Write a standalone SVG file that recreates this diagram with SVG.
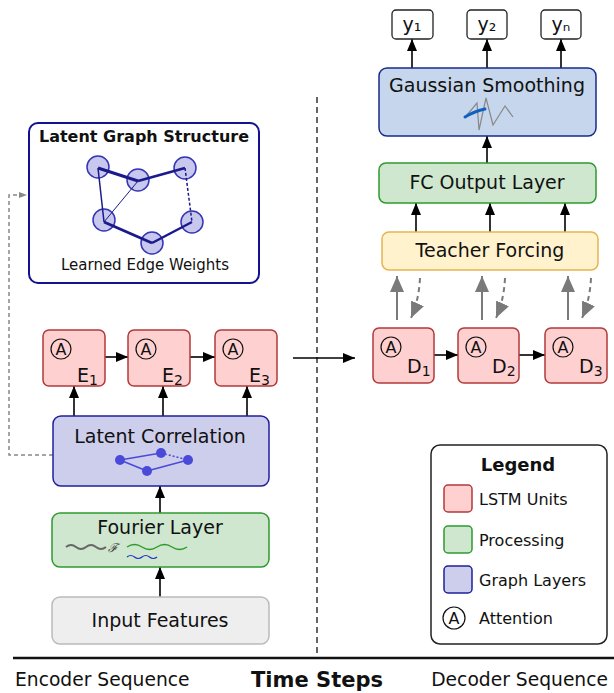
<svg xmlns="http://www.w3.org/2000/svg" width="614" height="693" viewBox="0 0 614 693">
<defs>
<style>
text{font-family:"DejaVu Sans","Verdana",sans-serif;fill:#111}
.lbl{font-size:19px;text-anchor:middle}
.lstm{fill:#ffd0d0;stroke:#b23a3a;stroke-width:1.5}
.proc{fill:#cfe6cf;stroke:#2e9a2e;stroke-width:1.5}
.graph{fill:#cdcdec;stroke:#1f1f9a;stroke-width:1.5}
.att{fill:none;stroke:#111;stroke-width:1.2}
.atxt{font-size:16px;text-anchor:middle}
.arr{stroke:#000;stroke-width:1.6;fill:none;marker-end:url(#ah)}
.garr{stroke:#7a7a7a;stroke-width:2;fill:none;marker-end:url(#gh)}
.gdash{stroke:#7a7a7a;stroke-width:2;fill:none;stroke-dasharray:5,4;marker-end:url(#gh)}
.edge{stroke:#1a1a8c;fill:none}
.gn{fill:#c8c8ee;stroke:#3535b5;stroke-width:1.5}
.leg{font-size:16px}
.sub{font-size:14px}
</style>
<marker id="ah" viewBox="0 0 12 10" refX="12" refY="5" markerWidth="12" markerHeight="10" markerUnits="userSpaceOnUse" orient="auto"><path d="M0,0 L12,5 L0,10 z" fill="#000"/></marker>
<marker id="gh" viewBox="0 0 16 14" refX="16" refY="7" markerWidth="16" markerHeight="14" markerUnits="userSpaceOnUse" orient="auto"><path d="M0,0 L16,7 L0,14 z" fill="#7a7a7a"/></marker>
<marker id="sh" viewBox="0 0 8 6" refX="8" refY="3" markerWidth="8" markerHeight="6" markerUnits="userSpaceOnUse" orient="auto"><path d="M0,0 L8,3 L0,6 z" fill="#888"/></marker>
</defs>

<g id="connectors">
<line x1="317" y1="97" x2="317" y2="656" stroke="#333" stroke-width="1.5" stroke-dasharray="6,4"/>
<line x1="13" y1="658" x2="614" y2="658" stroke="#111" stroke-width="2.5"/>
<path d="M53,455 L9,455 L9,195 L27,195" stroke="#888" stroke-width="1.5" fill="none" stroke-dasharray="4,3" marker-end="url(#sh)"/>
<line class="arr" x1="160" y1="597" x2="160" y2="567"/>
<line class="arr" x1="160" y1="513" x2="160" y2="486"/>
<line class="arr" x1="74" y1="416" x2="74" y2="386"/>
<line class="arr" x1="163" y1="416" x2="163" y2="386"/>
<line class="arr" x1="247" y1="416" x2="247" y2="386"/>
<line class="arr" x1="105" y1="357" x2="128" y2="357"/>
<line class="arr" x1="190" y1="357" x2="215" y2="357"/>
<line class="arr" x1="293" y1="358" x2="355" y2="358"/>
<line class="arr" x1="434" y1="355" x2="458" y2="355"/>
<line class="arr" x1="519" y1="355" x2="545" y2="355"/>
<line class="garr" x1="397" y1="320" x2="397" y2="276"/>
<line class="garr" x1="482" y1="320" x2="482" y2="276"/>
<line class="garr" x1="568" y1="320" x2="568" y2="276"/>
<path class="gdash" d="M420,278 Q419,300 411,318"/>
<path class="gdash" d="M505,278 Q504,300 496,318"/>
<path class="gdash" d="M591,278 Q590,300 582,318"/>
<line class="arr" x1="416" y1="232" x2="416" y2="203"/>
<line class="arr" x1="490" y1="232" x2="490" y2="203"/>
<line class="arr" x1="565" y1="232" x2="565" y2="203"/>
<line class="arr" x1="487" y1="163" x2="487" y2="136"/>
<line class="arr" x1="412" y1="68" x2="412" y2="39"/>
<line class="arr" x1="487" y1="68" x2="487" y2="39"/>
<line class="arr" x1="561" y1="68" x2="561" y2="39"/>
</g>

<g id="latent-graph">
<rect x="29" y="123" width="230" height="160" rx="9" fill="#fff" stroke="#12128f" stroke-width="2"/>
<text x="144" y="142" style="font-size:16px;font-weight:bold;text-anchor:middle">Latent Graph Structure</text>
<circle class="gn" cx="98" cy="167" r="11"/>
<circle class="gn" cx="138" cy="180" r="11"/>
<circle class="gn" cx="185" cy="168" r="11"/>
<circle class="gn" cx="104" cy="220" r="11"/>
<circle class="gn" cx="152" cy="243" r="11"/>
<circle class="gn" cx="192" cy="222" r="11"/>
<line class="edge" x1="98" y1="168" x2="138" y2="181" stroke-width="3"/>
<line class="edge" x1="138" y1="181" x2="185" y2="168" stroke-width="2.5"/>
<line class="edge" x1="185" y1="168" x2="192" y2="222" stroke-width="1.5" stroke-dasharray="3,2"/>
<line class="edge" x1="98" y1="168" x2="104" y2="222" stroke-width="1.5"/>
<line class="edge" x1="138" y1="181" x2="104" y2="222" stroke-width="1"/>
<line class="edge" x1="104" y1="222" x2="152" y2="243" stroke-width="3"/>
<line class="edge" x1="152" y1="243" x2="192" y2="222" stroke-width="2.5"/>
<text x="145" y="270" style="font-size:15px;text-anchor:middle">Learned Edge Weights</text>
</g>

<g id="E1"><rect class="lstm" x="43" y="330" width="62" height="56" rx="6"/><circle class="att" cx="61" cy="349" r="10"/><text class="atxt" x="61" y="355">A</text><text x="77" y="382" style="font-size:19px">E<tspan class="sub" dy="3">1</tspan></text></g>
<g id="E2"><rect class="lstm" x="128" y="330" width="62" height="56" rx="6"/><circle class="att" cx="146" cy="349" r="10"/><text class="atxt" x="146" y="355">A</text><text x="162" y="382" style="font-size:19px">E<tspan class="sub" dy="3">2</tspan></text></g>
<g id="E3"><rect class="lstm" x="215" y="330" width="62" height="56" rx="6"/><circle class="att" cx="233" cy="349" r="10"/><text class="atxt" x="233" y="355">A</text><text x="249" y="382" style="font-size:19px">E<tspan class="sub" dy="3">3</tspan></text></g>

<g id="latent-correlation">
<rect class="graph" x="53" y="416" width="216" height="70" rx="8"/>
<text class="lbl" x="160" y="443">Latent Correlation</text>
<g stroke="#4a4ad8" stroke-width="1.5" fill="none">
<line x1="120" y1="460" x2="161" y2="453"/>
<line x1="161" y1="453" x2="188" y2="460" stroke-dasharray="2,2"/>
<line x1="120" y1="460" x2="147" y2="471"/>
<line x1="147" y1="471" x2="188" y2="460"/>
</g>
<g fill="#4a4ad8"><circle cx="120" cy="460" r="5"/><circle cx="161" cy="453" r="5"/><circle cx="188" cy="460" r="5"/><circle cx="147" cy="471" r="5"/></g>
</g>

<g id="fourier-layer">
<rect class="proc" x="52" y="513" width="217" height="54" rx="8"/>
<text class="lbl" x="160" y="534">Fourier Layer</text>
<path d="M66,547 q5,-4 10,0 t10,0 t10,0 t10,0" stroke="#666" stroke-width="2" fill="none"/>
<text x="108" y="552" style="font-family:'DejaVu Serif',serif;font-size:12px;font-style:italic;fill:#333">ℱ</text>
<path d="M127,547 q7.5,-5 15,0 t15,0 t15,0 t15,0" stroke="#2a9a2a" stroke-width="1.3" fill="none"/>
<path d="M127,557 q3.75,-3 7.5,0 t7.5,0 t7.5,0 t7.5,0" stroke="#2030c0" stroke-width="1.2" fill="none"/>
</g>

<g id="input-features">
<rect x="52" y="597" width="217" height="47" rx="8" fill="#eeeeee" stroke="#bbbbbb" stroke-width="1.5"/>
<text class="lbl" x="160" y="627">Input Features</text>
</g>

<g id="y1"><rect x="392" y="10" width="41" height="29" rx="4" fill="#fff" stroke="#222" stroke-width="1.3"/><text class="lbl" x="412" y="31">y₁</text></g>
<g id="y2"><rect x="467" y="10" width="40" height="29" rx="4" fill="#fff" stroke="#222" stroke-width="1.3"/><text class="lbl" x="487" y="31">y₂</text></g>
<g id="yn"><rect x="541" y="10" width="40" height="29" rx="4" fill="#fff" stroke="#222" stroke-width="1.3"/><text class="lbl" x="561" y="31">yₙ</text></g>

<g id="gaussian-smoothing">
<rect x="379" y="68" width="217" height="68" rx="8" fill="#c6d6ec" stroke="#1a2a8c" stroke-width="1.5"/>
<text class="lbl" x="487" y="92">Gaussian Smoothing</text>
<polyline points="467,115 477,103 479,130 486,98 493,125 505,106 513,117" stroke="#888" stroke-width="1.2" fill="none"/>
<path d="M465,117 Q475,111 485,109" stroke="#1060c0" stroke-width="3" fill="none" stroke-linecap="round"/>
</g>

<g id="fc-output">
<rect class="proc" x="379" y="163" width="217" height="40" rx="7"/>
<text class="lbl" x="487" y="189">FC Output Layer</text>
</g>

<g id="teacher-forcing">
<rect x="382" y="232" width="216" height="38" rx="7" fill="#fff2cc" stroke="#e6b450" stroke-width="1.5"/>
<text class="lbl" x="490" y="257">Teacher Forcing</text>
</g>

<g id="D1"><rect class="lstm" x="373" y="328" width="61" height="55" rx="6"/><circle class="att" cx="391" cy="347" r="10"/><text class="atxt" x="391" y="353">A</text><text x="407" y="373" style="font-size:19px">D<tspan class="sub" dy="3">1</tspan></text></g>
<g id="D2"><rect class="lstm" x="458" y="328" width="61" height="55" rx="6"/><circle class="att" cx="476" cy="347" r="10"/><text class="atxt" x="476" y="353">A</text><text x="492" y="373" style="font-size:19px">D<tspan class="sub" dy="3">2</tspan></text></g>
<g id="D3"><rect class="lstm" x="545" y="328" width="62" height="55" rx="6"/><circle class="att" cx="563" cy="347" r="10"/><text class="atxt" x="563" y="353">A</text><text x="579" y="373" style="font-size:19px">D<tspan class="sub" dy="3">3</tspan></text></g>

<g id="legend">
<rect x="431" y="445" width="176" height="199" rx="9" fill="#fff" stroke="#222" stroke-width="1.5"/>
<text x="518" y="471" style="font-size:18px;font-weight:bold;text-anchor:middle">Legend</text>
<rect class="lstm" x="444" y="485" width="28" height="27" rx="4"/>
<text class="leg" x="479" y="505">LSTM Units</text>
<rect class="proc" x="444" y="526" width="28" height="27" rx="4"/>
<text class="leg" x="479" y="546">Processing</text>
<rect class="graph" x="444" y="566" width="28" height="27" rx="4"/>
<text class="leg" x="479" y="586">Graph Layers</text>
<circle class="att" cx="454" cy="618" r="11"/>
<text x="454" y="624" style="font-size:16px;text-anchor:middle">A</text>
<text class="leg" x="479" y="624">Attention</text>
</g>

<g id="axis-labels">
<text x="15" y="686" style="font-size:18.7px">Encoder Sequence</text>
<text x="317" y="687" style="font-size:21px;font-weight:bold;text-anchor:middle">Time Steps</text>
<text x="608" y="686" style="font-size:18.7px;text-anchor:end">Decoder Sequence</text>
</g>
</svg>
